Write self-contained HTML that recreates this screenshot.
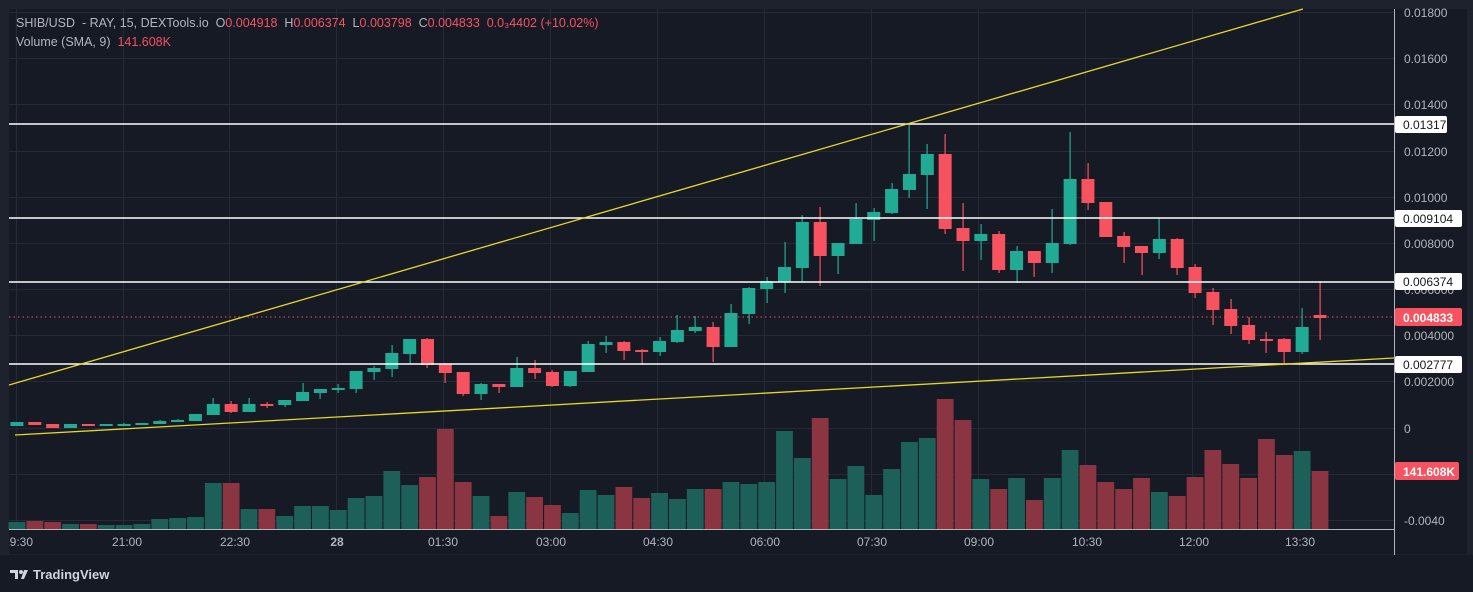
<!DOCTYPE html>
<html><head><meta charset="utf-8"><style>
html,body{margin:0;padding:0;background:#1e222d;width:1473px;height:592px;overflow:hidden;font-family:"Liberation Sans",sans-serif;}
svg{display:block}
text{white-space:pre}
</style></head><body>
<svg id="c" width="1473" height="592" xmlns="http://www.w3.org/2000/svg" font-family="Liberation Sans, sans-serif">
<rect x="0" y="0" width="1473" height="592" fill="#1e222d"/>
<rect x="9" y="9" width="1458" height="545" fill="#161a25"/>
<rect x="0" y="555" width="1473" height="37" fill="#161a25"/>
<g id="grid" stroke="#252a36" stroke-width="1"></g>
<g id="vol"></g>
<g id="cand"></g>
<g stroke="#ffffff" stroke-width="1.5">
<line x1="9" y1="124" x2="1394" y2="124"/>
<line x1="9" y1="218" x2="1394" y2="218"/>
<line x1="9" y1="282" x2="1394" y2="282"/>
<line x1="9" y1="364" x2="1394" y2="364"/>
</g>
<line x1="9" y1="317" x2="1394" y2="317" stroke="#f7525f" stroke-width="1" stroke-dasharray="1.5,3"/>
<line x1="9" y1="385" x2="1303" y2="9" stroke="#e6d72a" stroke-width="1.3"/>
<line x1="15" y1="435" x2="1394" y2="358" stroke="#e6d72a" stroke-width="1.3"/>
<line x1="1394.5" y1="9" x2="1394.5" y2="555" stroke="#b2b5be" stroke-width="1"/>
<line x1="9" y1="529.5" x2="1394" y2="529.5" stroke="#b2b5be" stroke-width="1"/>
<g fill="#b2b5be" font-size="12">
<text x="1404" y="17">0.01800</text>
<text x="1404" y="63">0.01600</text>
<text x="1404" y="109">0.01400</text>
<text x="1404" y="156">0.01200</text>
<text x="1404" y="202">0.01000</text>
<text x="1404" y="248">0.008000</text>
<text x="1404" y="294">0.006000</text>
<text x="1404" y="340">0.004000</text>
<text x="1404" y="386">0.002000</text>
<text x="1404" y="433">0</text>
<text x="1404" y="525">-0.0040</text>
</g>
<g font-size="12">
<rect x="1395" y="116" width="52" height="17" rx="2" fill="#fff"/><text x="1403" y="129" fill="#131722">0.01317</text>
<rect x="1395" y="210" width="67" height="17" rx="2" fill="#fff"/><text x="1403" y="223" fill="#131722">0.009104</text>
<rect x="1395" y="273" width="67" height="17" rx="2" fill="#fff"/><text x="1403" y="286" fill="#131722">0.006374</text>
<rect x="1395" y="308" width="67" height="18" rx="2" fill="#f7525f"/><text x="1403" y="322" fill="#fff" font-weight="bold">0.004833</text>
<rect x="1395" y="356" width="67" height="17" rx="2" fill="#fff"/><text x="1403" y="369" fill="#131722">0.002777</text>
<rect x="1395" y="462" width="64" height="18" rx="2" fill="#f7525f"/><text x="1403" y="476" fill="#fff" font-weight="bold">141.608K</text>
</g>
<g fill="#b2b5be" font-size="12" text-anchor="middle">
<text x="18" y="546">19:30</text>
<text x="127" y="546">21:00</text>
<text x="235" y="546">22:30</text>
<text x="337" y="546" font-weight="bold">28</text>
<text x="443" y="546">01:30</text>
<text x="551" y="546">03:00</text>
<text x="658" y="546">04:30</text>
<text x="765" y="546">06:00</text>
<text x="872" y="546">07:30</text>
<text x="979" y="546">09:00</text>
<text x="1087" y="546">10:30</text>
<text x="1194" y="546">12:00</text>
<text x="1300" y="546">13:30</text>
</g>
<rect x="0" y="530" width="9" height="25" fill="#1e222d"/>
<g font-size="12.5">
<text x="16" y="27" fill="#b2b5be">SHIB/USD  - RAY, 15, DEXTools.io  O<tspan fill="#f7525f">0.004918</tspan>  H<tspan fill="#f7525f">0.006374</tspan>  L<tspan fill="#f7525f">0.003798</tspan>  C<tspan fill="#f7525f">0.004833</tspan>  <tspan fill="#f7525f">0.0₃4402 (+10.02%)</tspan></text>
<text x="16" y="46" fill="#b2b5be">Volume (SMA, 9)  <tspan fill="#f7525f">141.608K</tspan></text>
</g>
<g fill="#d1d4dc"><path d="M10 570h8v9h-3v-6h-5z"/><circle cx="21" cy="572" r="2"/><path d="M24 570h4l-4 9h-3z"/></g>
<text x="33" y="579" fill="#d1d4dc" font-size="13" font-weight="bold">TradingView</text>
</svg>
<script>
var NS="http://www.w3.org/2000/svg";
function el(p,t,a){var e=document.createElementNS(NS,t);for(var k in a)e.setAttribute(k,a[k]);p.appendChild(e);}
var g=document.getElementById('grid');
[12,58,104,151,197,243,289,335,381,428,474,520].forEach(function(y){el(g,'line',{x1:9,x2:1394,y1:y+.5,y2:y+.5});});
[16,123,229,336,443,550,657,764,871,978,1085,1192,1299].forEach(function(x){el(g,'line',{x1:x+.5,x2:x+.5,y1:9,y2:529});});
var d=[
['g',422,426,422,426,522],['r',422,425,422,425,521],['r',424,428,424,428,522],['g',424,428,424,428,524],['r',424,426,424,426,524],
['g',424,426,424,426,525],['g',424,425,423,425,525],['g',423,425,423,425,524],['g',421,424,420,424,519],['g',420,422,419,422,518],
['g',414,421,414,421,517],['g',404,415,398,415,483],['r',404,412,401,413,483],['g',404,412,398,412,509],['r',404,405,402,408,509],
['g',400,405,400,407,516],['g',392,401,383,401,506],['g',389,393,389,399,506],['g',388,390,384,393,510],['g',371,389,371,393,498],
['g',368,372,366,380,496],['g',353,369,345,377,471],['g',339,354,339,364,485],['r',339,365,338,368,477],['r',364,373,363,383,429],
['r',372,394,372,396,482],['g',384,394,383,400,496],['r',384,387,384,393,516],['g',368,387,357,387,492],['r',368,373,360,379,497],
['r',372,386,370,387,505],['g',371,386,371,387,513],['g',344,372,341,372,490],['g',342,345,336,353,495],['r',342,351,341,360,487],
['r',350,352,349,365,498],['g',341,352,337,356,493],['g',330,342,315,343,499],['g',327,331,316,333,489],['r',327,347,322,362,489],
['g',313,347,304,347,482],['g',288,314,287,324,484],['g',281,289,277,303,482],['g',267,282,242,293,431],['g',222,268,215,282,458],
['r',222,256,207,286,418],['g',243,256,243,274,479],['g',219,244,203,244,466],['g',212,220,208,241,495],['g',189,213,183,214,469],
['g',174,190,125,198,442],['g',154,175,144,209,438],['r',154,229,134,234,399],['r',228,241,203,271,420],['g',234,241,224,260,479],
['r',234,270,231,273,489],['g',251,270,246,283,478],['r',251,263,251,277,500],['g',243,263,209,273,478],['g',179,244,132,245,450],
['r',179,203,163,210,465],['r',202,237,202,237,482],['r',236,247,232,263,489],['r',246,253,246,275,478],['g',239,253,218,259,492],
['r',239,268,238,275,496],['r',267,293,264,298,477],['r',292,310,288,325,450],['r',309,326,299,334,464],['r',325,340,317,344,478],
['r',339,340,332,353,439],['r',339,352,338,364,455],['g',327,352,308,354,451],['r',315,318,281,340,471]];
var v=document.getElementById('vol'),c=document.getElementById('cand');
d.forEach(function(o,i){
 var x=1320-(73-i)*17.85, col=o[0]=='g'?'#22ab94':'#f7525f', vc=o[0]=='g'?'#1d6059':'#8a3541';
 el(v,'rect',{x:x-8.4,y:o[5],width:16.8,height:529-o[5],fill:vc});
 el(c,'rect',{x:Math.round(x)-0.5,y:o[3],width:1.2,height:o[4]-o[3],fill:col});
 el(c,'rect',{x:x-6.5,y:o[1],width:13,height:Math.max(2,o[2]-o[1]),fill:col});
});
</script>
</body></html>
